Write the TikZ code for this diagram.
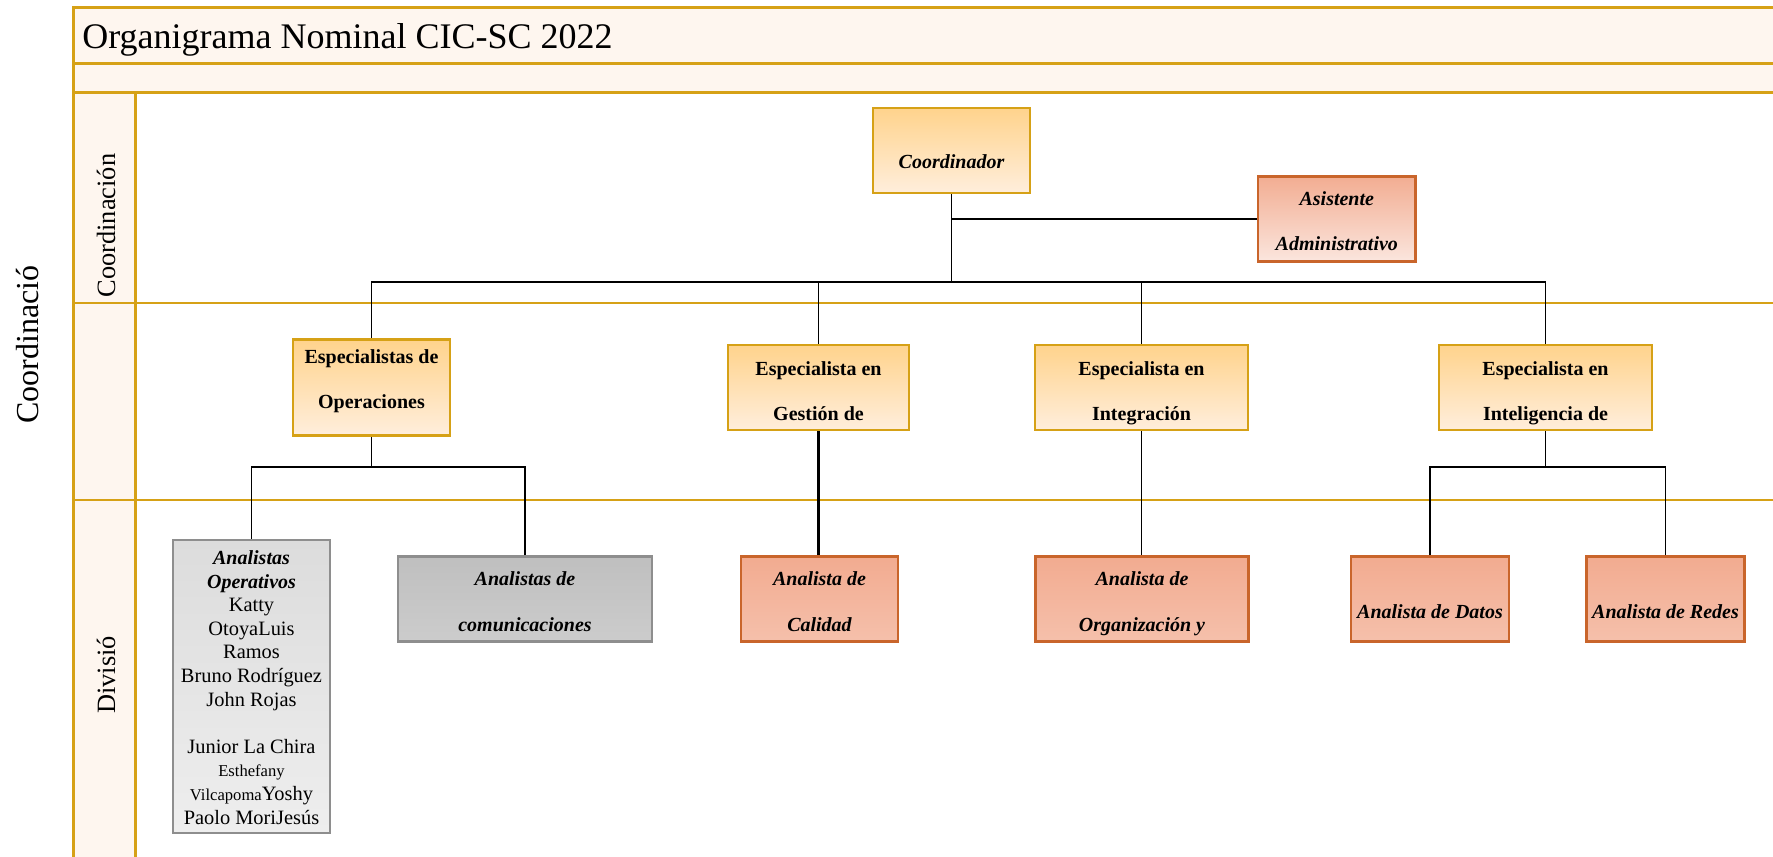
\documentclass[tikz,border=0pt]{standalone}
\usepackage{fontspec}
\setmainfont{Liberation Serif}
\definecolor{gold}{HTML}{D6A116}
\definecolor{cream}{HTML}{FEF6EF}
\definecolor{yeltop}{HTML}{FFD38C}
\definecolor{yelbot}{HTML}{FFEEDC}
\definecolor{salline}{HTML}{C9652B}
\definecolor{saltop}{HTML}{F2AB90}
\definecolor{salbot}{HTML}{F5C0AB}
\definecolor{asitop}{HTML}{F2AD92}
\definecolor{asibot}{HTML}{FBE6DE}
\definecolor{grline}{HTML}{8E8E8E}
\definecolor{grtop}{HTML}{BFBFBF}
\definecolor{grbot}{HTML}{CCCCCC}
\definecolor{lgtop}{HTML}{DCDCDC}
\definecolor{lgbot}{HTML}{EEEEEE}
\newcommand\hstrut[1]{\rule{0pt}{#1}}
\newcommand\dstrut[1]{\rule[-#1]{0pt}{0pt}}
\begin{document}
\begin{tikzpicture}[x=0.5pt,y=-0.5pt,
  frame/.style={draw=gold,line width=1.4pt},
  conn/.style={draw=black,line width=0.75pt},
  boxbase/.style={inner sep=0pt,align=center,line width=1.3pt},
  yel/.style={boxbase,draw=gold,top color=yeltop,bottom color=yelbot,font=\bfseries\fontsize{10}{22.75}\selectfont},
  sal/.style={boxbase,draw=salline,top color=saltop,bottom color=salbot,font=\bfseries\itshape\fontsize{10}{22.75}\selectfont},
  asis/.style={boxbase,draw=salline,top color=asitop,bottom color=asibot,font=\bfseries\itshape\fontsize{10}{22.5}\selectfont},
  gry/.style={boxbase,draw=grline,top color=grtop,bottom color=grbot,font=\bfseries\itshape\fontsize{10}{22.75}\selectfont},
  lgry/.style={boxbase,draw=grline,top color=lgtop,bottom color=lgbot},
  lanelabel/.style={rotate=90,inner sep=0pt,font=\fontsize{13.2}{15}\selectfont}
]
\useasboundingbox (0,0) rectangle (1773,857);
\clip (0,0) rectangle (1773,857);
% frame
\fill[cream] (73.5,7.3) rectangle (1790,92.3);
\fill[cream] (73.5,92.3) rectangle (135.7,880);
\draw[frame] (1790,7.3) -- (73.5,7.3) -- (73.5,880);
\draw[frame] (73.5,63.3) -- (1790,63.3);
\draw[frame] (73.5,92.3) -- (1790,92.3);
\draw[frame] (135.7,92.3) -- (135.7,880);
\draw[frame] (73.5,303) -- (1790,303);
\draw[frame] (73.5,500) -- (1790,500);
\node[anchor=base west,inner sep=0pt,font=\fontsize{18}{20}\selectfont] (title) at (82,48.3) {Organigrama Nominal CIC-SC 2022};
\node[lanelabel] (lane1) at (106,225.5) {Coordinación};
\node[lanelabel] (lane3) at (106,675) {Divisió};
\node[rotate=90,inner sep=0pt,font=\fontsize{16}{18}\selectfont] (outer) at (27.5,344.6) {Coordinació};
% boxes
\node[yel,font=\bfseries\itshape\fontsize{10}{22.5}\selectfont,minimum width=78.5pt,minimum height=42.5pt] (coord) at (951.5,150.4) {\raisebox{-5.4pt}[6.8pt][0pt]{Coordinador}};
\node[asis,minimum width=78.8pt,minimum height=42.5pt] (asist) at (1336.8,219.2) {\hstrut{10.8pt}Asistente\\Administrativo\dstrut{2.5pt}};
\node[yel,minimum width=78.5pt,minimum height=48pt] (ops) at (371.5,387.5) {Especialistas de\\Operaciones\dstrut{8.25pt}};
\node[yel,minimum width=90.5pt,minimum height=42.5pt] (gest) at (818.5,387.5) {\hstrut{12.75pt}Especialista en\\Gestión de\dstrut{2.5pt}};
\node[yel,minimum width=106.5pt,minimum height=42.5pt] (integ) at (1141.5,387.5) {\hstrut{12.75pt}Especialista en\\Integración\dstrut{2.5pt}};
\node[yel,minimum width=106.5pt,minimum height=42.5pt] (intel) at (1545.5,387.5) {\hstrut{12.75pt}Especialista en\\Inteligencia de\dstrut{2.5pt}};
\node[lgry,minimum width=78.5pt,minimum height=146.5pt] (opA) at (251.5,686.5) {};
\node[inner sep=0pt,align=center,anchor=north,font=\fontsize{10.2}{11.8}\selectfont] (opT) at (251.5,550.3) {{\fontsize{10}{11.8}\selectfont\bfseries\itshape Analistas}\\{\fontsize{10}{11.8}\selectfont\bfseries\itshape Operativos}\\Katty\\OtoyaLuis\\Ramos\\Bruno Rodríguez\\John Rojas\\[11.8pt]Junior La Chira\\{\fontsize{8.3}{10}\selectfont Esthefany}\\{\fontsize{8.3}{10}\selectfont Vilcapoma}Yoshy\\Paolo MoriJesús};
\node[gry,minimum width=127pt,minimum height=42.5pt] (com) at (525,599) {\hstrut{11.75pt}Analistas de\\comunicaciones\dstrut{2.5pt}};
\node[sal,minimum width=78.5pt,minimum height=42.5pt] (cal) at (819.5,599) {\hstrut{11.75pt}Analista de\\Calidad\dstrut{2.5pt}};
\node[sal,minimum width=106.5pt,minimum height=42.5pt] (org) at (1142,599) {\hstrut{11.75pt}Analista de\\Organización y\dstrut{2.5pt}};
\node[sal,minimum width=79pt,minimum height=42.5pt] (datos) at (1430,599) {\raisebox{-6.3pt}[6.8pt][0pt]{Analista de Datos}};
\node[sal,minimum width=79pt,minimum height=42.5pt] (redes) at (1665.5,599) {\raisebox{-6.3pt}[6.8pt][0pt]{Analista de Redes}};
% connectors
\coordinate (bus) at (951.5,282);
\coordinate (opsj) at (371.5,467);
\coordinate (intj) at (1545.5,467);
\draw[conn] (coord.south) -- (bus);
\draw[conn] (asist.west) -- (asist.west -| coord.south);
\draw[conn] (ops.north) |- (bus);
\draw[conn] (gest.north) |- (bus);
\draw[conn] (integ.north) |- (bus);
\draw[conn] (intel.north) |- (bus);
\draw[conn] (ops.south) -- (opsj);
\draw[conn] (opA.north) |- (opsj);
\draw[conn] (com.north) |- (opsj);
\draw[conn,line width=1.2pt] (gest.south) -- (cal.north -| gest.south);
\draw[conn] (integ.south) -- (org.north -| integ.south);
\draw[conn] (intel.south) -- (intj);
\draw[conn] (datos.north) |- (intj);
\draw[conn] (redes.north) |- (intj);
\end{tikzpicture}
\end{document}
